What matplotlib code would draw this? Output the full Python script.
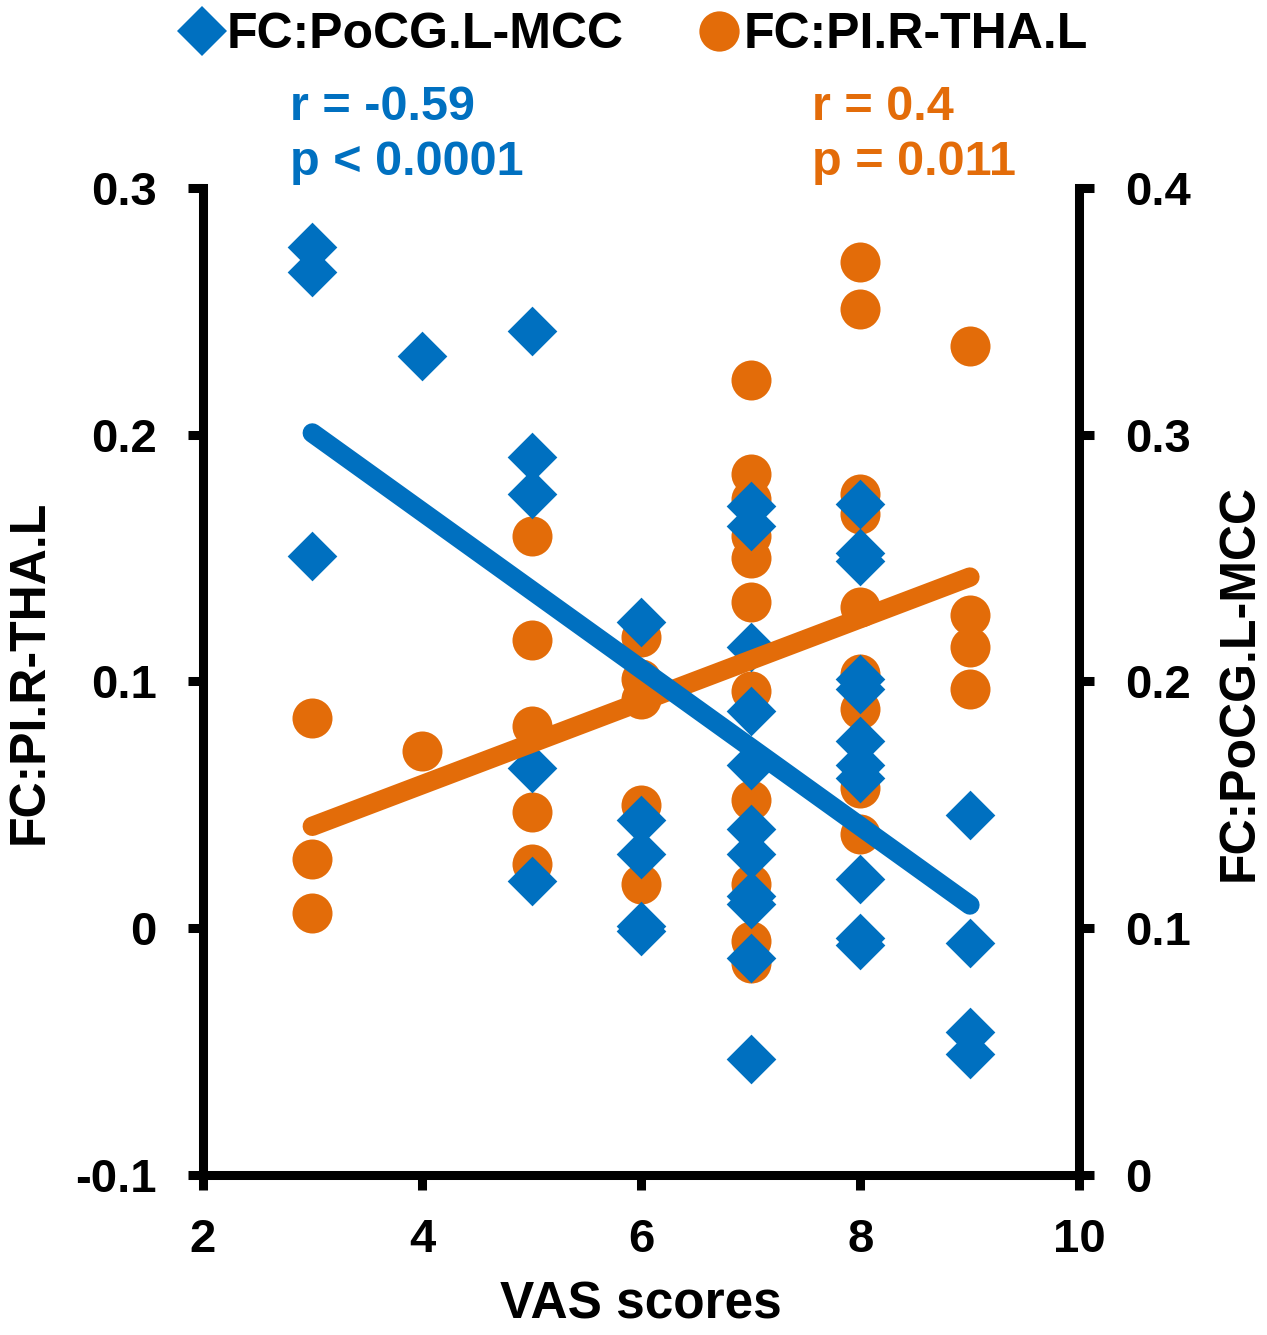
import numpy as np
import matplotlib
matplotlib.use('Agg')
import matplotlib.pyplot as plt
from matplotlib.lines import Line2D

plt.rcParams['font.family'] = ['Liberation Sans', 'DejaVu Sans']
plt.rcParams['font.weight'] = 'bold'

blue = '#0070C0'
orange = '#E36C09'

# FC:PoCG.L-MCC (right axis), diamonds
vas_pocg = [3, 3, 3, 4, 5, 5, 5, 5, 5, 6, 6, 6, 6, 6,
            7, 7, 7, 7, 7, 7, 7, 7, 7, 7, 7,
            8, 8, 8, 8, 8, 8, 8, 8, 8, 8, 8,
            9, 9, 9, 9]
fc_pocg = [0.376, 0.366, 0.251, 0.332, 0.342, 0.291, 0.276, 0.165, 0.119,
           0.224, 0.144, 0.130, 0.101, 0.099,
           0.271, 0.263, 0.214, 0.188, 0.166, 0.140, 0.130, 0.113, 0.110, 0.088, 0.047,
           0.272, 0.252, 0.249, 0.201, 0.197, 0.176, 0.166, 0.161, 0.120, 0.096, 0.093,
           0.146, 0.094, 0.058, 0.049]

# FC:PI.R-THA.L (left axis), circles
vas_pi = [3, 3, 3, 4, 5, 5, 5, 5, 5, 6, 6, 6, 6, 6,
          7, 7, 7, 7, 7, 7, 7, 7, 7, 7, 7,
          8, 8, 8, 8, 8, 8, 8, 8, 8,
          9, 9, 9, 9]
fc_pi = [0.085, 0.028, 0.006, 0.072, 0.159, 0.117, 0.082, 0.047, 0.026,
         0.118, 0.101, 0.093, 0.050, 0.018,
         0.222, 0.184, 0.174, 0.159, 0.150, 0.132, 0.096, 0.052, 0.018, -0.005, -0.014,
         0.270, 0.251, 0.176, 0.168, 0.130, 0.103, 0.089, 0.057, 0.038,
         0.236, 0.127, 0.114, 0.097]

# fitted lines, end points
fit_vas = [3, 9]
fit_pocg = [0.3007, 0.1094]
fit_pi = [0.0413, 0.1423]

xticks = [2, 4, 6, 8, 10]
left_ticks = [-0.1, 0, 0.1, 0.2, 0.3]
left_labels = ['-0.1', '0', '0.1', '0.2', '0.3']
right_ticks = [0, 0.1, 0.2, 0.3, 0.4]
right_labels = ['0', '0.1', '0.2', '0.3', '0.4']

fig = plt.figure(figsize=(12.67, 13.35), dpi=100)
ax = fig.add_axes([0.160, 0.1199, 0.692, 0.7393])
ax2 = ax.twinx()

# everything drawn in ax so the layering can be controlled
ax.scatter(vas_pi, fc_pi, s=830, marker='o', color=orange, linewidths=0, zorder=2)
ax.scatter(vas_pocg, fc_pocg, s=640, marker='D', color=blue, linewidths=0,
           zorder=3, transform=ax2.transData)
ax.plot(fit_vas, fit_pi, color=orange, lw=14, solid_capstyle='round', zorder=4)
ax.plot(fit_vas, fit_pocg, color=blue, lw=14, solid_capstyle='round', zorder=5,
        transform=ax2.transData)

ax.set_xlim(2, 10)
ax.set_ylim(-0.1, 0.3)
ax2.set_ylim(0, 0.4)

for a in (ax, ax2):
    a.spines['top'].set_visible(False)
    for s in a.spines.values():
        s.set_linewidth(6.5)
    a.tick_params(width=6.5, length=11, labelsize=34)
ax.spines['right'].set_visible(False)
ax2.spines['left'].set_visible(False)
ax2.spines['bottom'].set_visible(False)

ax.set_xticks(xticks)
ax.set_xticklabels([str(t) for t in xticks])
ax.set_yticks(left_ticks)
ax.set_yticklabels(left_labels)
ax2.set_yticks(right_ticks)
ax2.set_yticklabels(right_labels)
ax.tick_params(axis='x', pad=20)
ax.tick_params(axis='y', pad=22)
ax2.tick_params(axis='y', pad=22)

fig.text(641 / 1267, 1 - 1305 / 1335, 'VAS scores', fontsize=37, ha='center', va='center')
fig.text(30 / 1267, 1 - 672 / 1335, 'FC:PI.R-THA.L', fontsize=36, rotation=90,
         ha='center', va='center')
fig.text(1240 / 1267, 1 - 682 / 1335, 'FC:PoCG.L-MCC', fontsize=36, rotation=90,
         ha='center', va='center')

fig.text(290 / 1267, 1 - 120 / 1335, 'r = -0.59', fontsize=35, color=blue, va='baseline')
fig.text(290 / 1267, 1 - 175 / 1335, 'p < 0.0001', fontsize=35, color=blue, va='baseline')
fig.text(812 / 1267, 1 - 120 / 1335, 'r = 0.4', fontsize=35, color=orange, va='baseline')
fig.text(812 / 1267, 1 - 175 / 1335, 'p = 0.011', fontsize=35, color=orange, va='baseline')

handles = [Line2D([], [], ls='none', marker='D', ms=25, color=blue, mew=0),
           Line2D([], [], ls='none', marker='o', ms=29, color=orange, mew=0)]
fig.legend(handles, ['FC:PoCG.L-MCC', 'FC:PI.R-THA.L'], ncol=2, frameon=False,
           loc='center', bbox_to_anchor=(0.501, 1 - 35 / 1335), fontsize=36,
           handlelength=0.8, handletextpad=0.1, columnspacing=1.5,
           borderpad=0, borderaxespad=0)

fig.savefig('out.png', dpi=100)
